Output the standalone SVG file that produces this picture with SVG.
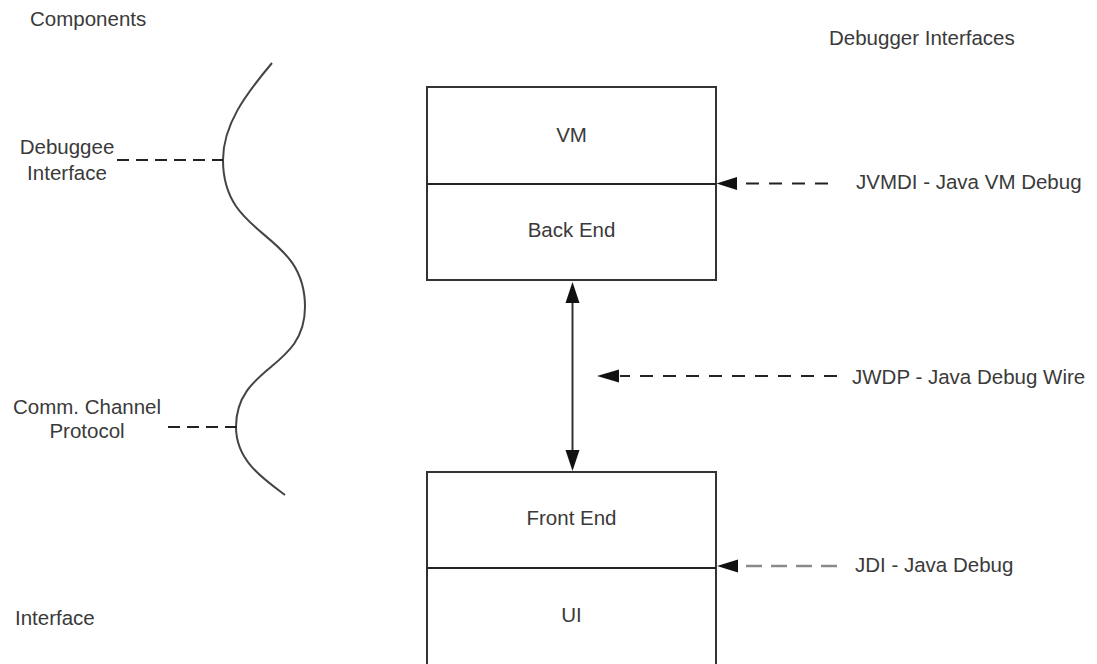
<svg xmlns="http://www.w3.org/2000/svg" width="1097" height="664" viewBox="0 0 1097 664">
<style>
text{font-family:"Liberation Sans",Arial,sans-serif;font-size:20.5px;fill:#3a3a3a}
.box{fill:#fff;stroke:#333;stroke-width:2}
.div{stroke:#222;stroke-width:2}
.dash{stroke:#222;stroke-width:2;stroke-dasharray:13 10;fill:none}
.gdash{stroke:#8a8a8a;stroke-width:2.6;stroke-dasharray:16 9;fill:none}
.ldash{stroke:#222;stroke-width:2;stroke-dasharray:12 7;fill:none}
.curve{stroke:#444;stroke-width:2;fill:none}
.mid{text-anchor:middle}
</style>
<defs>
<marker id="ah" markerUnits="userSpaceOnUse" markerWidth="22" markerHeight="16" viewBox="0 0 22 16" refX="21" refY="8" orient="auto-start-reverse">
<path d="M0,1 L21,8 L0,15 Z" fill="#111"/>
</marker>
</defs>
<g id="labels">
<text x="30" y="26">Components</text>
<text x="829" y="45">Debugger Interfaces</text>
<text x="15" y="625">Interface</text>
</g>
<g id="curve">
<path class="curve" d="M272,63 C245,95 223,125 223,160 C223,240 305,230 305,307 C305,370 236,365 236,427 C236,460 262,478 285,495"/>
</g>
<g id="debuggee-interface">
<text class="mid" x="67" y="154">Debuggee</text>
<text class="mid" x="67" y="180">Interface</text>
</g>
<g id="comm-channel">
<text class="mid" x="87" y="414">Comm. Channel</text>
<text class="mid" x="87" y="438">Protocol</text>
</g>
<g id="backend-box">
<rect class="box" x="427" y="87" width="289" height="193"/>
<line class="div" x1="427" y1="184" x2="716" y2="184"/>
<text class="mid" x="571.5" y="142">VM</text>
<text class="mid" x="571.5" y="237">Back End</text>
</g>
<g id="frontend-box">
<rect class="box" x="427" y="472" width="289" height="200"/>
<line class="div" x1="427" y1="568" x2="716" y2="568"/>
<text class="mid" x="571.5" y="525">Front End</text>
<text class="mid" x="571.5" y="622">UI</text>
</g>
<g id="jvmdi">
<text x="856" y="189">JVMDI - Java VM Debug</text>
</g>
<g id="jwdp">
<text x="852" y="384">JWDP - Java Debug Wire</text>
</g>
<g id="jdi">
<text x="855" y="572">JDI - Java Debug</text>
</g>
<g id="connectors">
<line x1="572.5" y1="302" x2="572.5" y2="450" stroke="#333" stroke-width="2"/>
<path d="M572.5,282 L565.5,303 L579.5,303 Z" fill="#111"/>
<path d="M572.5,471 L565.5,450 L579.5,450 Z" fill="#111"/>
<path class="dash" d="M828,183.5 L738,183.5"/>
<path d="M716.5,183.5 L737,177 L737,190 Z" fill="#111"/>
<path class="dash" d="M837,376 L620,376"/>
<path d="M597,376 L619,369.5 L619,382.5 Z" fill="#111"/>
<path class="gdash" d="M837,566 L738,566"/>
<path d="M717,566 L738,559.5 L738,572.5 Z" fill="#111"/>
<path class="ldash" d="M117,160 L223,160"/>
<path class="ldash" d="M237,427 L163,427"/>
</g>
</svg>
